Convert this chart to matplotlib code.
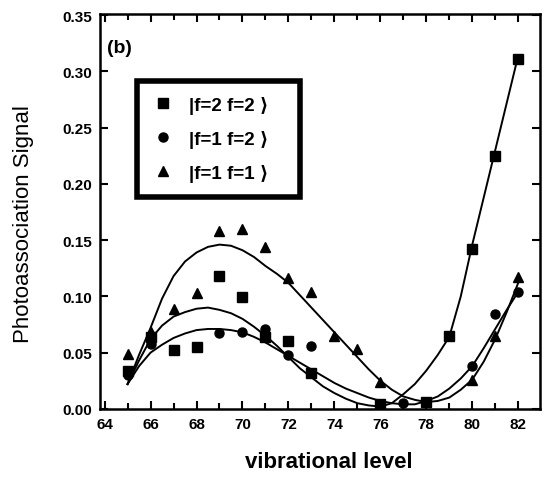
import numpy as np
import matplotlib
matplotlib.use('Agg')
import matplotlib.pyplot as plt
from matplotlib.ticker import MultipleLocator

plt.rcParams['font.family'] = ['Liberation Sans', 'DejaVu Sans']

# measured points
lev_sq = [65, 66, 67, 68, 69, 70, 71, 72, 73, 76, 78, 79, 80, 81, 82]
sig_sq = [0.034, 0.064, 0.052, 0.055, 0.118, 0.099, 0.064, 0.060, 0.032,
          0.004, 0.006, 0.065, 0.142, 0.225, 0.311]

lev_ci = [65, 66, 69, 70, 71, 72, 73, 76, 77, 80, 81, 82]
sig_ci = [0.030, 0.058, 0.067, 0.068, 0.071, 0.048, 0.056, 0.004, 0.005,
          0.038, 0.084, 0.104]

lev_tr = [65, 66, 67, 68, 69, 70, 71, 72, 73, 74, 75, 76, 80, 81, 82]
sig_tr = [0.049, 0.068, 0.089, 0.103, 0.158, 0.160, 0.144, 0.116, 0.104,
          0.065, 0.053, 0.024, 0.026, 0.065, 0.117]

# fitted curves, every half level
fit_lev = np.arange(65, 82.01, 0.5)
fit_sq = [0.022, 0.043, 0.062, 0.074, 0.082, 0.086, 0.089, 0.090, 0.088,
          0.085, 0.080, 0.073, 0.065, 0.056, 0.046, 0.036, 0.028, 0.020,
          0.014, 0.009, 0.005, 0.003, 0.002, 0.005, 0.013, 0.022, 0.034,
          0.048, 0.064, 0.100, 0.146, 0.188, 0.230, 0.272, 0.314]
fit_ci = [0.022, 0.038, 0.050, 0.057, 0.063, 0.067, 0.070, 0.071, 0.071,
          0.070, 0.068, 0.064, 0.059, 0.053, 0.047, 0.041, 0.035, 0.029,
          0.023, 0.018, 0.014, 0.010, 0.007, 0.005, 0.004, 0.004, 0.007,
          0.011, 0.018, 0.027, 0.038, 0.054, 0.071, 0.088, 0.104]
fit_tr = [0.022, 0.048, 0.072, 0.098, 0.118, 0.131, 0.139, 0.144, 0.146,
          0.145, 0.141, 0.135, 0.127, 0.120, 0.112, 0.101, 0.090, 0.079,
          0.068, 0.057, 0.046, 0.035, 0.025, 0.017, 0.011, 0.008, 0.006,
          0.007, 0.010, 0.017, 0.026, 0.042, 0.062, 0.086, 0.112]

labels = ['|f=2 f=2 ⟩', '|f=1 f=2 ⟩', '|f=1 f=1 ⟩']

fig = plt.figure(figsize=(5.48, 4.85), dpi=100)
ax = fig.add_axes([0.1825, 0.155, 0.803, 0.814])

ax.plot(fit_lev, fit_sq, color='black', lw=1.4)
ax.plot(fit_lev, fit_ci, color='black', lw=1.4)
ax.plot(fit_lev, fit_tr, color='black', lw=1.4)

ax.plot(lev_sq, sig_sq, 's', color='black', ms=6.5, label=labels[0])
ax.plot(lev_ci, sig_ci, 'o', color='black', ms=6.5, label=labels[1])
ax.plot(lev_tr, sig_tr, '^', color='black', ms=7.5, label=labels[2])

ax.set_xlim(63.8, 82.95)
ax.set_ylim(0, 0.351)
ax.xaxis.set_major_locator(MultipleLocator(2))
ax.xaxis.set_minor_locator(MultipleLocator(1))
ax.yaxis.set_major_locator(MultipleLocator(0.05))
ax.yaxis.set_major_formatter(matplotlib.ticker.FormatStrFormatter('%.2f'))
ax.tick_params(which='both', direction='in', top=True, right=True, width=1.5)
ax.tick_params(which='major', length=6, labelsize=11, pad=6)
ax.tick_params(which='minor', length=4)
for lab in ax.get_xticklabels() + ax.get_yticklabels():
    lab.set_fontweight('bold')
for sp in ax.spines.values():
    sp.set_linewidth(1.8)

ax.set_xlabel('vibrational level', fontsize=16, fontweight='bold')
ax.xaxis.set_label_coords(0.52, -0.108)
ax.set_ylabel('Photoassociation Signal', fontsize=16)
ax.yaxis.set_label_coords(-0.15, 0.47)
ax.text(0.016, 0.905, '(b)', transform=ax.transAxes, fontsize=14,
        fontweight='bold')

leg = ax.legend(loc='upper left', bbox_to_anchor=(0.083, 0.537, 0.372, 0.294),
                mode='expand', frameon=True, fancybox=False, framealpha=1,
                edgecolor='black', prop={'size': 13.5, 'weight': 'bold'},
                labelspacing=0.85, borderpad=0.8, handletextpad=0.8,
                handlelength=1.2, borderaxespad=0)
leg.get_frame().set_linewidth(4)

fig.savefig('out.png', dpi=100)
